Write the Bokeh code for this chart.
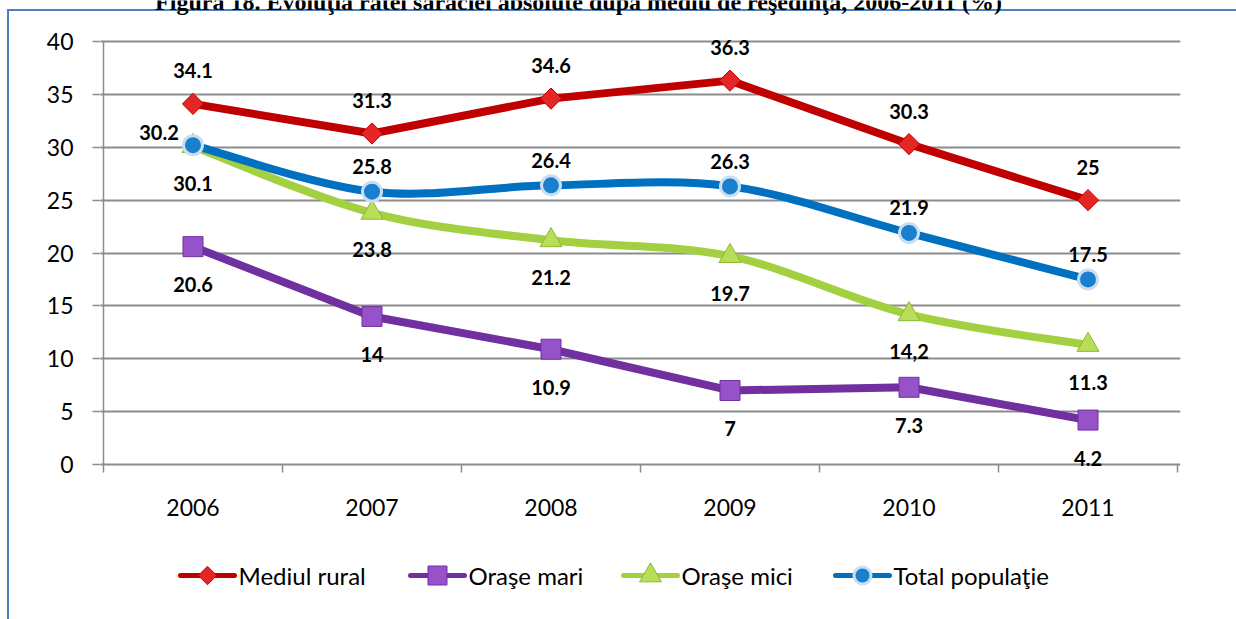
import numpy as np
from bokeh.plotting import figure
from bokeh.models import Range1d, FixedTicker, ColumnDataSource
from bokeh.core.properties import value
from bokeh.embed import file_html
from bokeh.resources import INLINE

# ---------------- data ----------------
years = ["2006", "2007", "2008", "2009", "2010", "2011"]
rural = [34.1, 31.3, 34.6, 36.3, 30.3, 25]
mari = [20.6, 14, 10.9, 7, 7.3, 4.2]
mici = [30.1, 23.8, 21.2, 19.7, 14.2, 11.3]
total = [30.2, 25.8, 26.4, 26.3, 21.9, 17.5]
rural_labels = ["34.1", "31.3", "34.6", "36.3", "30.3", "25"]
mari_labels = ["20.6", "14", "10.9", "7", "7.3", "4.2"]
mici_labels = ["30.1", "23.8", "21.2", "19.7", "14,2", "11.3"]
total_labels = ["30.2", "25.8", "26.4", "26.3", "21.9", "17.5"]
series_names = ["Mediul rural", "Oraşe mari", "Oraşe mici", "Total populaţie"]
title_text = "Figura 18. Evoluţia ratei sărăciei absolute după mediu de reşedinţă, 2006-2011 (%)"
y_ticks = [0, 5, 10, 15, 20, 25, 30, 35, 40]

# ---------------- layout (page pixels) ----------------
W, H = 1236, 619
FRAME_L, FRAME_R = 103, 1177        # category axis extent
TOP40_Y, ZERO_Y, FRAME_B = 41, 464, 611
PAD = 3
n = len(years)
ppx = (FRAME_R - FRAME_L) / n
ppy = (ZERO_Y - TOP40_Y) / y_ticks[-1]


def px_x(px):
    return (px - FRAME_L) / ppx


def px_y(py):
    return (ZERO_Y - py) / ppy


xs = [i + 0.5 for i in range(n)]
bounds = list(range(n + 1))

FONT = "Lato"
GRID = "#8c8c8c"
BLUE = "#4F81BD"

p = figure(width=W, height=H, output_backend="svg", toolbar_location=None,
           x_range=Range1d(-PAD / ppx, n + PAD / ppx),
           y_range=Range1d(px_y(FRAME_B), px_y(0)),
           x_axis_location=None,
           min_border_left=FRAME_L - PAD, min_border_right=W - FRAME_R - PAD,
           min_border_top=0, min_border_bottom=H - FRAME_B)
p.styles = {
    "background-color": "white",
    "background-image": f"linear-gradient({BLUE},{BLUE}), linear-gradient({BLUE},{BLUE})",
    "background-size": "2px 100%, 100% 2px",
    "background-position": "7px 9px, 7px 9px",
    "background-repeat": "no-repeat",
}
p.outline_line_color = None
p.background_fill_alpha = 0
p.border_fill_alpha = 0

# y axis
p.yaxis.ticker = FixedTicker(ticks=y_ticks)
p.yaxis.minor_tick_line_color = None
p.yaxis.major_tick_out = 8
p.yaxis.major_tick_in = 0
p.yaxis.major_tick_line_color = GRID
p.yaxis.major_tick_line_width = 1.5
p.yaxis.axis_line_color = None
p.yaxis.major_label_standoff = 16 + PAD
p.yaxis.major_label_text_font = FONT
p.yaxis.major_label_text_font_size = "23px"
p.yaxis.major_label_text_color = "black"

p.xgrid.grid_line_color = None
p.ygrid.ticker = FixedTicker(ticks=y_ticks)
p.ygrid.grid_line_color = GRID
p.ygrid.grid_line_width = 2

# value axis line (0..40) and category axis ticks / labels
p.segment(x0=[0], y0=[y_ticks[0]], x1=[0], y1=[y_ticks[-1]],
          line_color=GRID, line_width=1.5)
p.segment(x0=bounds, y0=[0] * len(bounds), x1=bounds, y1=[px_y(ZERO_Y + 8)] * len(bounds),
          line_color=GRID, line_width=1.5)
p.text(x=xs, y=[0] * n, text=years, y_offset=43,
       text_align="center", text_baseline="middle",
       text_font=value(FONT), text_font_size="23px", text_color="black")


def smooth_segments(x, y):
    """Cubic Bezier pieces (Excel-style smoothed line) through the data points."""
    x = np.asarray(x, float)
    y = np.asarray(y, float)
    k = len(x)
    xp = np.concatenate([[x[0]], x, [x[-1]]])
    yp = np.concatenate([[y[0]], y, [y[-1]]])
    d = dict(x0=[], y0=[], x1=[], y1=[], cx0=[], cy0=[], cx1=[], cy1=[])
    for i in range(k - 1):
        j = i + 1
        d["x0"].append(x[i]); d["y0"].append(y[i])
        d["x1"].append(x[i + 1]); d["y1"].append(y[i + 1])
        d["cx0"].append(x[i] + (xp[j + 1] - xp[j - 1]) / 6)
        d["cy0"].append(y[i] + (yp[j + 1] - yp[j - 1]) / 6)
        d["cx1"].append(x[i + 1] - (xp[j + 2] - xp[j]) / 6)
        d["cy1"].append(y[i + 1] - (yp[j + 2] - yp[j]) / 6)
    return ColumnDataSource(d)


# series
specs = [
    (rural, rural_labels, "#C00000", False,
     dict(marker="square", size=15, angle=np.pi / 4, fill_color="#E52626", line_color="#C00000"),
     [(0, -33)] * 6,
     dict(marker="square", size=13, angle=np.pi / 4, fill_color="#E52626", line_color="#C00000"),
     207),
    (mari, mari_labels, "#7030A0", False,
     dict(marker="square", size=20, fill_color="#9653C9", line_color="#7030A0"),
     [(0, 38)] * 6,
     dict(marker="square", size=19, fill_color="#9653C9", line_color="#7030A0"),
     437),
    (mici, mici_labels, "#A2D040", True,
     dict(marker="triangle", size=22, fill_color="#B8DE58", line_color="#8CB834"),
     [(0, 37)] * 6,
     dict(marker="triangle", size=22, fill_color="#B8DE58", line_color="#8CB834"),
     650),
    (total, total_labels, "#0070C0", True,
     dict(marker="circle", size=19, fill_color="#1A7FCC", line_color="#C9DEF3", line_width=3),
     [(-34, -13)] + [(0, -25)] * 5,
     dict(marker="circle", size=17, fill_color="#1A7FCC", line_color="#C9DEF3", line_width=3),
     862),
]

LEG_Y = 575
LEG_HALF = 27
for (vals, labs, color, smooth, mk, offs, lmk, lx), name in zip(specs, series_names):
    src = ColumnDataSource(dict(x=xs, y=vals, lab=labs,
                                xo=[o[0] for o in offs], yo=[o[1] for o in offs]))
    if smooth:
        p.bezier(x0="x0", y0="y0", x1="x1", y1="y1", cx0="cx0", cy0="cy0",
                 cx1="cx1", cy1="cy1", source=smooth_segments(xs, vals),
                 line_color=color, line_width=8, line_cap="round")
    else:
        p.line("x", "y", source=src, line_color=color, line_width=8,
               line_join="round", line_cap="round")
    p.scatter("x", "y", source=src, **mk)
    p.text("x", "y", text="lab", source=src, x_offset="xo", y_offset="yo",
           text_align="center", text_baseline="middle",
           text_font=value(FONT), text_font_style="bold",
           text_font_size="20px", text_color="black")
    # legend entry
    ly = px_y(LEG_Y)
    p.segment(x0=[px_x(lx - LEG_HALF)], y0=[ly], x1=[px_x(lx + LEG_HALF)], y1=[ly],
              line_color=color, line_width=5, line_cap="round")
    p.scatter(x=[px_x(lx)], y=[ly], **lmk)
    p.text(x=[px_x(lx + LEG_HALF + 4)], y=[ly], text=[name],
           text_align="left", text_baseline="middle",
           text_font=value(FONT), text_font_size="24px", text_color="black")

# title (cut off at the top of the page, as in the source document)
p.text(x=[px_x(578)], y=[px_y(1.5)], text=[title_text],
       text_align="center", text_baseline="alphabetic",
       text_font=value("Liberation Serif"), text_font_style="bold",
       text_font_size="24px", text_color="black")

open("out.html", "w").write(file_html(p, INLINE))
